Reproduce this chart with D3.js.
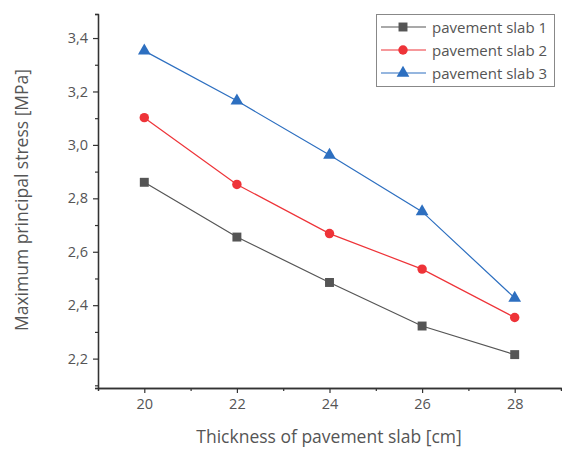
<!DOCTYPE html>
<html>
<head>
<meta charset="utf-8">
<script src="https://cdn.jsdelivr.net/npm/d3@7"></script>
<style>
  body { margin: 0; background: #fff; }
  svg text { font-family: "Open Sans", sans-serif; fill: #555; }
</style>
</head>
<body>
<div id="wrapper"></div>
<script>
const thickness = [20, 22, 24, 26, 28];
const slab1 = [2.86, 2.655, 2.485, 2.322, 2.215];
const slab2 = [3.102, 2.852, 2.668, 2.535, 2.354];
const slab3 = [3.352, 3.165, 2.962, 2.75, 2.427];
const seriesNames = ["pavement slab 1", "pavement slab 2", "pavement slab 3"];
const xTicks = [20, 22, 24, 26, 28];
const yTicks = [2.2, 2.4, 2.6, 2.8, 3.0, 3.2, 3.4];

function drawChart(){
	const width = 562;
	const height = 449;
	const plot = { left: 98, right: 561, top: 14, bottom: 388 };

	const svg = d3.select("#wrapper").append("svg")
		.attr("width", width)
		.attr("height", height);

	const xScaler = d3.scaleLinear().domain([19, 29]).range([plot.left, plot.right]);
	const yScaler = d3.scaleLinear().domain([2.09, 3.49]).range([plot.bottom, plot.top]);

	const commaFmt = d3.formatLocale({ decimal: ",", thousands: ".", grouping: [3], currency: ["", ""] }).format(".1f");

	const axisColor = "#333";

	// minor ticks first
	const xMinor = [19, 21, 23, 25, 27, 29];
	const yMinor = [2.09, 2.1, 2.3, 2.5, 2.7, 2.9, 3.1, 3.3, 3.49];

	const xAxisMinor = svg.append("g")
		.attr("transform", `translate(0,${plot.bottom})`)
		.call(d3.axisBottom(xScaler).tickValues(xMinor).tickSize(3).tickFormat(""));
	const yAxisMinor = svg.append("g")
		.attr("transform", `translate(${plot.left},0)`)
		.call(d3.axisLeft(yScaler).tickValues(yMinor).tickSize(3).tickFormat(""));

	const xAxis = svg.append("g")
		.attr("transform", `translate(0,${plot.bottom})`)
		.call(d3.axisBottom(xScaler).tickValues(xTicks).tickSize(5).tickPadding(6).tickSizeOuter(0));
	const yAxis = svg.append("g")
		.attr("transform", `translate(${plot.left},0)`)
		.call(d3.axisLeft(yScaler).tickValues(yTicks).tickSize(5).tickPadding(5).tickFormat(commaFmt).tickSizeOuter(0));

	[xAxisMinor, yAxisMinor, xAxis, yAxis].forEach(a => {
		a.selectAll("path").attr("stroke", axisColor).attr("stroke-width", 1.3);
		a.selectAll("line").attr("stroke", axisColor).attr("stroke-width", 1.2);
		a.selectAll("text").style("font-size", "14.5px").attr("fill", "#555");
	});

	// series
	const series = [
		{ name: seriesNames[0], values: slab1, color: "#555555", line: "#555555", shape: d3.symbolSquare, size: 80 },
		{ name: seriesNames[1], values: slab2, color: "#ee3338", line: "#ee3338", shape: d3.symbolCircle, size: 70 },
		{ name: seriesNames[2], values: slab3, color: "#2d6fc0", line: "#2d6fc0", shape: d3.symbolTriangle, size: 70 }
	];

	const lineGen = d3.line()
		.x((d, i) => xScaler(thickness[i]))
		.y(d => yScaler(d));

	series.forEach(s => {
		svg.append("path")
			.datum(s.values)
			.attr("d", lineGen)
			.attr("fill", "none")
			.attr("stroke", s.line)
			.attr("stroke-width", 1.2);

		svg.append("g").selectAll("path")
			.data(s.values)
			.enter()
			.append("path")
			.attr("d", d3.symbol().type(s.shape).size(s.size))
			.attr("transform", (d, i) => `translate(${xScaler(thickness[i])},${yScaler(d)})`)
			.attr("fill", s.color);
	});

	// legend
	const legend = svg.append("g").attr("transform", "translate(376,14)");
	legend.append("rect")
		.attr("x", 0.5).attr("y", 0.5)
		.attr("width", 178).attr("height", 72)
		.attr("fill", "#fff")
		.attr("stroke", "#888")
		.attr("stroke-width", 1);

	series.forEach((s, i) => {
		const row = legend.append("g").attr("transform", `translate(0,${13 + i * 23})`);
		row.append("line")
			.attr("x1", 5).attr("x2", 50)
			.attr("stroke", s.line).attr("stroke-width", 1.2);
		row.append("path")
			.attr("d", d3.symbol().type(s.shape).size(s.size))
			.attr("transform", "translate(27,0)")
			.attr("fill", s.color);
		row.append("text")
			.attr("x", 56).attr("y", 6)
			.style("font-size", "15px")
			.text(s.name);
	});

	// axis titles
	svg.append("text")
		.attr("x", 329)
		.attr("y", 443)
		.attr("text-anchor", "middle")
		.style("font-size", "17.5px")
		.text("Thickness of pavement slab [cm]");

	svg.append("text")
		.attr("transform", `translate(28,200) rotate(-90)`)
		.attr("text-anchor", "middle")
		.style("font-size", "17.5px")
		.text("Maximum principal stress [MPa]");
}

drawChart();
</script>
</body>
</html>
